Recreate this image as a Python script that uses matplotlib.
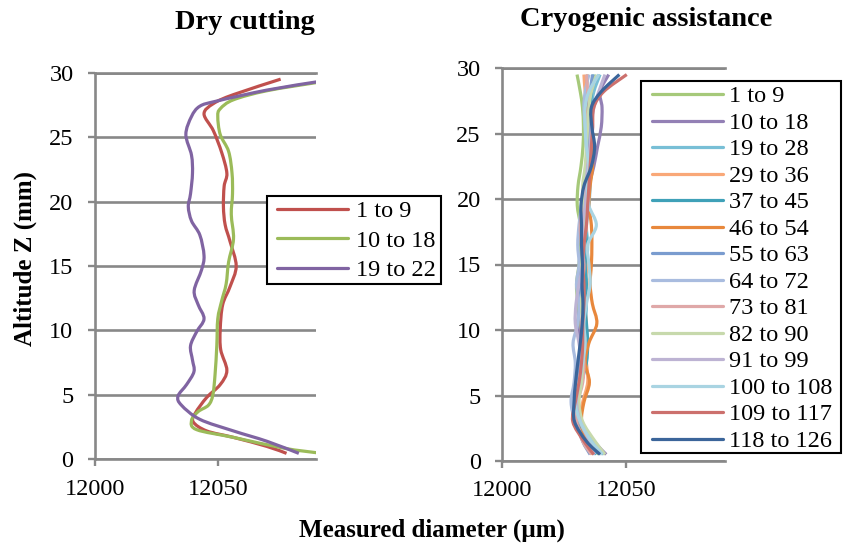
import numpy as np
import matplotlib
matplotlib.use("Agg")
import matplotlib.pyplot as plt
from matplotlib.path import Path
from matplotlib.patches import PathPatch, Rectangle
from matplotlib.lines import Line2D

plt.rcParams['font.family'] = ['Liberation Serif', 'DejaVu Serif']

# ---------------- data ----------------
# Dry cutting: measured diameter (um) versus altitude Z (mm)
dry_labels = ["1 to 9", "10 to 18", "19 to 22"]
dry_colors = ["#C0504D", "#9BBB59", "#8064A2"]

dry_z_1_9 = [0.46, 1.0, 1.7, 2.2, 2.9, 3.6, 4.8, 5.8, 6.9, 8.5, 10.1, 12.0, 13.4,
             15.0, 16.9, 18.2, 19.6, 21.2, 22.2, 23.8, 25.5, 26.8, 27.6, 28.3, 29.5]
dry_d_1_9 = [12078, 12070, 12056.4, 12045.5, 12040, 12040.9, 12045.5, 12051, 12053.7,
             12051.2, 12051, 12052, 12055, 12057.5, 12055, 12053, 12052.3, 12052.6,
             12053.7, 12051.6, 12048.2, 12044.4, 12048.2, 12056.4, 12075.6]

dry_z_10_18 = [0.5, 0.86, 1.7, 2.3, 3.0, 3.7, 4.2, 5.0, 6.6, 8.8, 10.9, 12.3, 13.6,
               15.3, 17.1, 19.0, 20.6, 22.2, 23.9, 25.2, 26.6, 27.2, 27.9, 28.6, 29.25]
dry_d_10_18 = [12090.7, 12077, 12056.4, 12041.4, 12039.3, 12042, 12046.2, 12048,
               12048.9, 12049.6, 12050, 12051.6, 12053.4, 12054.4, 12056.4, 12055.5,
               12056, 12055.8, 12054.4, 12051, 12050, 12051, 12056.4, 12070, 12090.7]

dry_z_19_22 = [0.46, 1.4, 2.2, 3.1, 4.2, 4.9, 5.8, 6.8, 7.7, 8.8, 9.9, 10.9, 12.0,
               13.1, 14.7, 15.8, 17.4, 18.5, 19.6, 20.6, 22.2, 23.6, 25.2, 26.6,
               27.4, 27.8, 28.65, 29.3]
dry_d_19_22 = [12083, 12070, 12056.4, 12042.7, 12035.2, 12033.8, 12037.3, 12040.3,
               12039.7, 12038.9, 12041.4, 12044.4, 12042, 12040.4, 12043.4, 12044.4,
               12042.7, 12039.3, 12038, 12038.9, 12039.7, 12039.3, 12037, 12039.3,
               12042.7, 12049.6, 12070, 12090.7]

# Cryogenic assistance: all passes sampled at the same altitudes (mm)
cryo_z = [0.5, 1.5, 3.0, 4.5, 6.0, 7.5, 9.0, 10.5, 12.0, 13.5, 15.0, 16.5, 18.0,
          19.5, 21.0, 22.5, 24.0, 25.5, 27.0, 28.2, 29.5]

cryo_labels = ["1 to 9", "10 to 18", "19 to 28", "29 to 36", "37 to 45", "46 to 54",
               "55 to 63", "64 to 72", "73 to 81", "82 to 90", "91 to 99",
               "100 to 108", "109 to 117", "118 to 126"]
cryo_colors = ["#A6C97A", "#9380B5", "#78BFD6", "#F9A878", "#3FA1B8", "#E8883C",
               "#7A9CCF", "#A9BCDF", "#DFA8A8", "#C7D9AC", "#BDB3D3", "#A9D4E2",
               "#CC706D", "#3B659A"]

d_1_9 = [12039.0, 12035.5, 12030.5, 12029.5, 12030.5, 12031.5, 12031.6, 12031.0,
         12030.5, 12030.0, 12031.0, 12031.5, 12031.5, 12030.3, 12030.6, 12031.8,
         12032.6, 12032.8, 12032.4, 12031.5, 12030.2]
d_10_18 = [12042.0, 12037.0, 12031.0, 12030.5, 12031.5, 12032.0, 12031.5, 12030.5,
           12031.5, 12032.0, 12032.5, 12033.0, 12033.5, 12034.0, 12035.0, 12037.0,
           12038.5, 12040.0, 12040.3, 12039.5, 12043.0]
d_19_28 = [12041.0, 12036.5, 12032.0, 12030.0, 12031.5, 12033.5, 12034.0, 12033.5,
           12034.0, 12033.0, 12034.0, 12034.5, 12034.0, 12035.0, 12035.5, 12036.0,
           12036.5, 12035.5, 12036.0, 12037.0, 12039.5]
d_29_36 = [12036.5, 12033.5, 12031.0, 12032.5, 12034.5, 12034.0, 12033.0, 12034.0,
           12033.0, 12033.5, 12034.0, 12033.0, 12034.0, 12033.5, 12034.5, 12035.5,
           12035.0, 12034.0, 12034.5, 12033.5, 12033.0]
d_37_45 = [12038.0, 12034.5, 12031.5, 12030.5, 12032.0, 12034.0, 12034.5, 12034.0,
           12033.5, 12034.0, 12033.5, 12034.0, 12033.5, 12034.0, 12035.0, 12035.5,
           12036.0, 12035.0, 12035.5, 12036.0, 12037.0]
d_46_54 = [12037.0, 12034.0, 12032.0, 12033.0, 12035.2, 12033.5, 12035.0, 12038.2,
           12036.4, 12035.5, 12036.0, 12036.2, 12036.0, 12035.0, 12035.5, 12036.5,
           12036.0, 12035.5, 12034.5, 12034.0, 12034.5]
d_55_63 = [12035.5, 12032.5, 12030.0, 12029.0, 12030.5, 12031.0, 12032.0, 12032.5,
           12032.0, 12031.5, 12032.0, 12032.5, 12032.0, 12033.0, 12033.5, 12034.0,
           12035.0, 12035.5, 12035.0, 12035.5, 12036.5]
d_64_72 = [12037.5, 12033.0, 12029.5, 12027.8, 12029.0, 12029.5, 12028.6, 12030.5,
           12031.0, 12030.0, 12031.0, 12030.5, 12031.0, 12032.0, 12033.0, 12034.5,
           12034.0, 12033.5, 12033.0, 12033.5, 12035.0]
d_73_81 = [12036.0, 12032.5, 12030.0, 12030.5, 12032.5, 12033.0, 12032.5, 12032.0,
           12033.0, 12032.5, 12033.0, 12032.0, 12031.5, 12032.5, 12034.0, 12035.0,
           12035.5, 12036.5, 12035.5, 12034.5, 12034.0]
d_82_90 = [12041.5, 12037.5, 12032.5, 12031.0, 12032.0, 12032.5, 12033.0, 12032.5,
           12032.0, 12032.5, 12032.0, 12033.0, 12033.5, 12033.0, 12032.5, 12033.5,
           12034.0, 12034.5, 12035.0, 12036.0, 12038.0]
d_91_99 = [12040.0, 12035.5, 12031.5, 12030.0, 12031.0, 12032.0, 12031.0, 12029.5,
           12029.8, 12031.0, 12032.5, 12033.0, 12032.5, 12033.5, 12034.0, 12034.5,
           12035.5, 12036.0, 12037.0, 12039.0, 12041.5]
d_100_108 = [12040.5, 12036.0, 12031.5, 12029.5, 12031.0, 12032.5, 12033.5, 12033.0,
             12034.0, 12035.5, 12035.0, 12034.5, 12038.0, 12035.0, 12034.5, 12035.0,
             12034.0, 12033.5, 12033.5, 12035.0, 12039.0]
d_109_117 = [12037.0, 12033.0, 12028.5, 12029.5, 12031.0, 12032.0, 12032.5, 12032.5,
             12033.0, 12033.0, 12032.5, 12033.0, 12034.0, 12034.5, 12035.0, 12035.5,
             12036.0, 12036.5, 12037.0, 12041.0, 12050.3]
d_118_126 = [12039.5, 12034.0, 12029.2, 12029.0, 12029.6, 12030.5, 12031.5, 12032.3,
             12032.6, 12032.2, 12032.4, 12032.0, 12032.0, 12031.8, 12033.0, 12036.0,
             12037.3, 12036.2, 12036.0, 12040.0, 12047.3]

cryo_series = [d_1_9, d_10_18, d_19_28, d_29_36, d_37_45, d_46_54, d_55_63, d_64_72,
               d_73_81, d_82_90, d_91_99, d_100_108, d_109_117, d_118_126]

# ---------------- figure ----------------
W, H = 851, 543
fig = plt.figure(figsize=(W / 100, H / 100), dpi=100)
GRID = "#888888"
LW = 2.3


def px(x0, y0, x1, y1):
    """Pixel box (top-left origin) -> figure-fraction rect."""
    return [x0 / W, 1 - y1 / H, (x1 - x0) / W, (y1 - y0) / H]


def smooth_path(x, y):
    """Smoothed (Catmull-Rom style) Bezier path through the points."""
    p = np.column_stack([x, y]).astype(float)
    n = len(p)
    verts = [p[0]]
    codes = [Path.MOVETO]
    for i in range(n - 1):
        p0 = p[i - 1] if i > 0 else p[i]
        p1, p2 = p[i], p[i + 1]
        p3 = p[i + 2] if i + 2 < n else p[i + 1]
        verts += [p1 + (p2 - p0) / 6, p2 - (p3 - p1) / 6, p2]
        codes += [Path.CURVE4] * 3
    return Path(verts, codes)


def style_axes(ax):
    ax.set_xlim(12000, 12090)
    ax.set_ylim(0, 30)
    ax.set_xticks([12000, 12050])
    ax.set_yticks(range(0, 31, 5))
    ax.yaxis.grid(True, color=GRID, lw=1.9)
    ax.set_axisbelow(True)
    for s in ("left", "bottom", "top"):
        ax.spines[s].set_color(GRID)
        ax.spines[s].set_linewidth(1.9)
    ax.spines["right"].set_visible(False)
    ax.tick_params(axis="both", direction="out", length=5, width=1.7,
                   color=GRID, labelsize=17.5, labelcolor="black")
    ax.tick_params(axis="y", pad=10.5)
    ax.tick_params(axis="x", pad=9)


def add_curve(ax, x, y, color):
    ax.add_patch(PathPatch(smooth_path(x, y), fill=False, edgecolor=color,
                           lw=LW, joinstyle="round", capstyle="butt"))


def draw_legend(box, row0, step, labels, colors, lx0, lx1, tx):
    x0, y0, x1, y1 = box
    fig.add_artist(Rectangle((x0 / W, 1 - y1 / H), (x1 - x0) / W, (y1 - y0) / H,
                             transform=fig.transFigure, facecolor="white",
                             edgecolor="black", lw=1.5, zorder=5))
    for i, (lab, col) in enumerate(zip(labels, colors)):
        y = row0 + i * step
        fig.add_artist(Line2D([lx0 / W, lx1 / W], [1 - y / H, 1 - y / H],
                              transform=fig.transFigure, color=col, lw=LW,
                              solid_capstyle="round", zorder=6))
        fig.text(tx / W, 1 - (y + 8.2) / H, lab, fontsize=17.5, va="baseline",
                 ha="left", zorder=7)


# Dry cutting panel
ax1 = fig.add_axes(px(95, 72.7, 316, 459.3))
style_axes(ax1)
for z, d, c in zip([dry_z_1_9, dry_z_10_18, dry_z_19_22],
                   [dry_d_1_9, dry_d_10_18, dry_d_19_22], dry_colors):
    add_curve(ax1, d, z, c)

# Cryogenic assistance panel
ax2 = fig.add_axes(px(502.3, 68, 725, 461))
style_axes(ax2)
for d, c in zip(cryo_series, cryo_colors):
    add_curve(ax2, d, cryo_z, c)

# Titles and axis titles
fig.text(245 / W, 1 - 28.7 / H, "Dry cutting", ha="center", va="baseline",
         fontsize=20.5, fontweight="bold")
fig.text(646 / W, 1 - 25.5 / H, "Cryogenic assistance", ha="center",
         va="baseline", fontsize=20.5, fontweight="bold")
fig.text(25 / W, 1 - 258.5 / H, "Altitude Z (mm)", rotation=90, ha="center",
         va="center", fontsize=18, fontweight="bold")
fig.text(431.5 / W, 1 - 537 / H, "Measured diameter (µm)", ha="center",
         va="baseline", fontsize=18, fontweight="bold")

# Legends
draw_legend((266.7, 195.8, 441, 284.2), 209, 29.4, dry_labels, dry_colors,
            277, 348, 356)
draw_legend((640.7, 81.2, 841, 453), 94.1, 26.5, cryo_labels, cryo_colors,
            651.7, 722.7, 729.3)

fig.savefig("out.png", dpi=100)
